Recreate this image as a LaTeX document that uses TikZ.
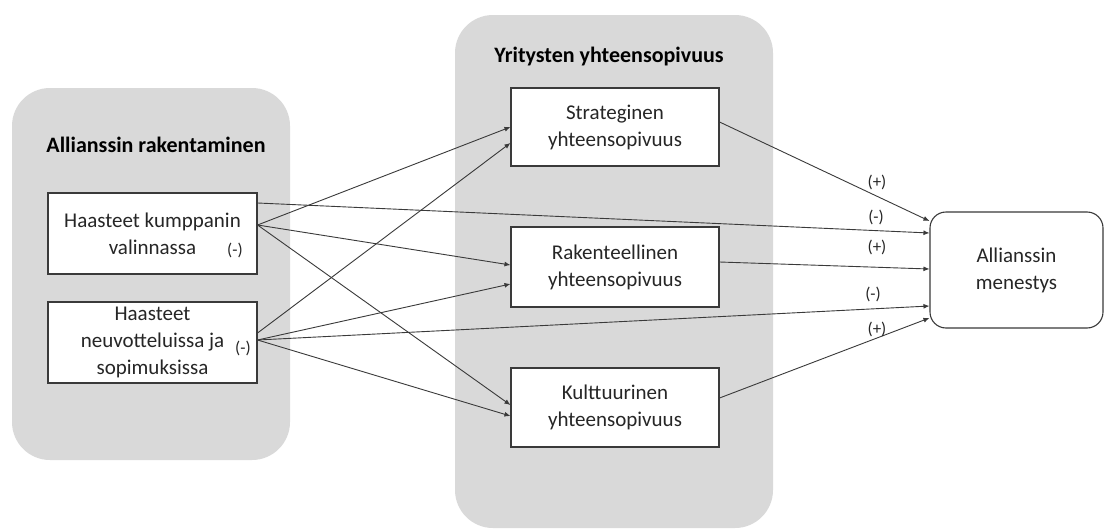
\documentclass[tikz,border=0pt]{standalone}
\usepackage{fontspec}
\setmainfont{Carlito}
\usetikzlibrary{arrows.meta}
\definecolor{panelgrey}{HTML}{D9D9D9}
\definecolor{linegrey}{HTML}{3A3A3A}
\definecolor{textgrey}{HTML}{262626}
\begin{document}
\begin{tikzpicture}[x=1pt,y=-1pt,
  panel/.style={fill=panelgrey, draw=none, rounded corners=38pt, inner sep=0pt},
  box/.style={draw=linegrey, line width=1.1pt, fill=white, align=center, inner sep=0pt,
    text=textgrey, font=\fontsize{21}{27}\selectfont},
  title/.style={font=\fontsize{22}{26}\selectfont\bfseries, text=black},
  sign/.style={font=\fontsize{17}{20}\selectfont, text=textgrey, inner sep=0pt},
  conn/.style={draw=linegrey, line width=0.9pt, -{Latex[length=6pt,width=5pt]}}
]
\useasboundingbox (0,0) rectangle (1104,530);
\fill[white] (0,0) rectangle (1104,530);

% panels
\node[panel, minimum width=278pt, minimum height=372pt] (lp) at (151,274) {};
\node[panel, minimum width=318pt, minimum height=513pt] (mp) at (614,271.5) {};

% titles
\node[title] (t1) at (156,145) {Allianssin rakentaminen};
\node[title] (t2) at (609,57) {Yritysten yhteensopivuus};

% left boxes
\node[box, minimum width=209pt, minimum height=81pt] (b1) at (152.5,233.5)
  {Haasteet kumppanin\\valinnassa};
\node[box, minimum width=209pt, minimum height=81pt] (b2) at (152.5,342.5)
  {Haasteet\\neuvotteluissa ja\\sopimuksissa};
\node[sign] (m1) at (235,250) {(-)};
\node[sign] (m2) at (243,348) {(-)};

% middle boxes
\node[box, minimum width=208pt, minimum height=78pt] (S) at (615,127)
  {Strateginen\\yhteensopivuus};
\node[box, minimum width=208pt, minimum height=80pt] (R) at (615,267)
  {Rakenteellinen\\yhteensopivuus};
\node[box, minimum width=208pt, minimum height=79pt] (K) at (615,407.5)
  {Kulttuurinen\\yhteensopivuus};

% outcome
\node[box, rounded corners=16pt, minimum width=173pt, minimum height=116pt] (M) at (1016.5,270)
  {Allianssin\\menestys};

% connectors from left boxes
\draw[conn] ([yshift=8.5pt]b1.east) -- ([yshift=0pt]S.west);
\draw[conn] ([yshift=9.5pt]b2.east) -- ([yshift=-16pt]S.west);
\draw[conn] ([yshift=8.5pt]b1.east) -- ([yshift=2pt]R.west);
\draw[conn] ([yshift=2.5pt]b2.east) -- ([yshift=-17pt]R.west);
\draw[conn] ([yshift=8.5pt]b1.east) -- ([yshift=2.5pt]K.west);
\draw[conn] ([yshift=2.5pt]b2.east) -- ([yshift=-8.5pt]K.west);
\draw[conn] ([yshift=30.5pt]b1.east) -- ([yshift=37pt]M.west);
\draw[conn] ([yshift=2.5pt]b2.east) -- ([yshift=-36pt]M.west);

% connectors from middle boxes
\draw[conn] ([yshift=5pt]S.east) -- ([yshift=49pt]M.west);
\draw[conn] ([yshift=5pt]R.east) -- ([yshift=1pt]M.west);
\draw[conn] ([yshift=9.5pt]K.east) -- ([yshift=-48pt]M.west);

% signs
\node[sign] (p1) at (877,182) {(+)};
\node[sign] (n1) at (876,217) {(-)};
\node[sign] (p2) at (877,247) {(+)};
\node[sign] (n2) at (873,294) {(-)};
\node[sign] (p3) at (877,329) {(+)};
\end{tikzpicture}
\end{document}
